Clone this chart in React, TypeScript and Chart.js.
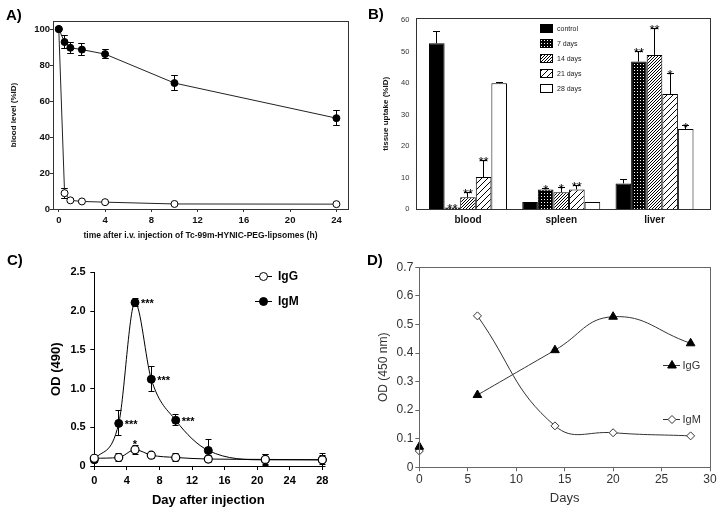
import React, { useEffect, useRef } from 'react';
import { Chart, registerables } from 'chart.js';

Chart.register(...registerables);

const FONT = '"Liberation Sans", Arial, Helvetica, sans-serif';
Chart.defaults.font.family = FONT;

const W = 721;
const H = 513;

// ---------- Panel A: blood level (%ID) vs time (h)
const aTimeH = [0, 0.5, 1, 2, 4, 10, 24];
const aFilled = [100, 92.8, 89.6, 88.6, 86.1, 70.0, 50.5];
const aFilledErr = [0, 3.8, 3.0, 3.5, 2.4, 4.0, 4.2];
const aOpen = [100, 8.8, 4.8, 4.2, 3.8, 2.8, 2.7];
const aOpenErr = [0, 2.8, 0.8, 0.5, 0.5, 0.5, 0.5];
const aXTicks = [0, 4, 8, 12, 16, 20, 24];
const aYTicks = [0, 20, 40, 60, 80, 100];

// ---------- Panel B: tissue uptake (%ID)
const bOrgans = ['blood', 'spleen', 'liver'];
const bGroups = ['control', '7 days', '14 days', '21 days', '28 days'];
const bControl = [52.6, 2.3, 8.2];
const bControlErr = [3.7, 0, 1.1];
const b7Days = [0.6, 6.3, 46.8];
const b7DaysErr = [0, 0.3, 3.2];
const b14Days = [3.8, 5.4, 48.9];
const b14DaysErr = [1.5, 1.5, 8.5];
const b21Days = [10.2, 6.3, 36.5];
const b21DaysErr = [5.4, 1.2, 6.6];
const b28Days = [39.9, 2.3, 25.4];
const b28DaysErr = [0.4, 0, 1.0];
const bControlStars = ['', '', ''];
const b7Stars = ['**', '*', '**'];
const b14Stars = ['**', '*', '**'];
const b21Stars = ['**', '**', '*'];
const b28Stars = ['', '', '*'];
const bYTicks = [0, 10, 20, 30, 40, 50, 60];

// ---------- Panel C: OD (490) vs day after injection
const cDays = [0, 3, 5, 7, 10, 14, 21, 28];
const cIgG = [0.10, 0.11, 0.21, 0.14, 0.11, 0.09, 0.085, 0.08];
const cIgGErr = [0.04, 0.05, 0.06, 0.04, 0.05, 0.05, 0.06, 0.06];
const cIgM = [0.08, 0.55, 2.11, 1.12, 0.59, 0.20, 0.08, 0.08];
const cIgMErr = [0.03, 0.16, 0.05, 0.16, 0.07, 0.14, 0.07, 0.08];
const cIgGStars = ['', '', '*', '', '', '', '', ''];
const cIgMStars = ['', '***', '***', '***', '***', '', '', ''];
const cXTicks = [0, 4, 8, 12, 16, 20, 24, 28];
const cYTicks = [0, 0.5, 1.0, 1.5, 2.0, 2.5];

// ---------- Panel D: OD (450 nm) vs days
const dBaselineDay = [0];
const dIgGBaseline = [0.072];
const dIgMBaseline = [0.057];
const dDays = [6, 14, 20, 28];
const dIgG = [0.253, 0.41, 0.527, 0.434];
const dIgM = [0.53, 0.145, 0.121, 0.11];
const dXTicks = [0, 5, 10, 15, 20, 25, 30];
const dYTicks = [0, 0.1, 0.2, 0.3, 0.4, 0.5, 0.6, 0.7];

// ---------- helpers
const setTicks = (vals: number[]) => (s: any) => {
  s.ticks = vals.map((v) => ({ value: v }));
};
const fixW = (w: number) => (s: any) => {
  s.width = w;
};
const fixH = (h: number) => (s: any) => {
  s.height = h;
};
const f = (size: number, weight: string = 'normal') => ({ family: FONT, size, weight });
const pts = (xs: number[], ys: number[]) => xs.map((x, i) => ({ x, y: ys[i] }));
const dec1 = (v: number) => (v === 0 ? '0' : Number(v).toFixed(1));

const errorBarPlugin = {
  id: 'errorBars',
  beforeDatasetsDraw(chart: any) {
    const ctx = chart.ctx;
    chart.data.datasets.forEach((ds: any, di: number) => {
      if (!ds.errors) return;
      const meta = chart.getDatasetMeta(di);
      const ys = chart.scales[meta.yAxisID];
      const cap = ds.errCap ?? 3;
      ctx.save();
      ctx.strokeStyle = ds.errColor || '#000';
      ctx.lineWidth = 1;
      meta.data.forEach((el: any, i: number) => {
        const e = ds.errors[i];
        if (!e) return;
        const d = ds.data[i];
        const v = typeof d === 'number' ? d : d.y;
        const x = Math.round(el.x - 0.5) + 0.5;
        const yTop = Math.round(ys.getPixelForValue(v + e) - 0.5) + 0.5;
        const yBot = ds.errUp
          ? ys.getPixelForValue(v)
          : Math.round(ys.getPixelForValue(v - e) - 0.5) + 0.5;
        ctx.beginPath();
        ctx.moveTo(x, yTop);
        ctx.lineTo(x, yBot);
        ctx.moveTo(x - cap, yTop);
        ctx.lineTo(x + cap, yTop);
        if (!ds.errUp) {
          ctx.moveTo(x - cap, yBot);
          ctx.lineTo(x + cap, yBot);
        }
        ctx.stroke();
      });
      ctx.restore();
    });
  },
};

const starPlugin = {
  id: 'stars',
  afterDatasetsDraw(chart: any) {
    const ctx = chart.ctx;
    chart.data.datasets.forEach((ds: any, di: number) => {
      if (!ds.stars) return;
      const meta = chart.getDatasetMeta(di);
      const ys = chart.scales[meta.yAxisID];
      const fs = ds.starSize || 10;
      ctx.save();
      ctx.fillStyle = '#000';
      ctx.font = `${ds.starWeight || 'bold'} ${fs}px ${FONT}`;
      ctx.textBaseline = 'alphabetic';
      meta.data.forEach((el: any, i: number) => {
        const s = ds.stars[i];
        if (!s) return;
        const d = ds.data[i];
        const v = typeof d === 'number' ? d : d.y;
        const e = ds.errors ? ds.errors[i] || 0 : 0;
        if (ds.starPos === 'right') {
          ctx.textAlign = 'left';
          ctx.fillText(s, el.x + 6, el.y + 0.45 * fs);
        } else {
          ctx.textAlign = 'center';
          const top = ys.getPixelForValue(v + e);
          ctx.fillText(s, el.x, top - (ds.starGap ?? 1) + 0.43 * fs);
        }
      });
      ctx.restore();
    });
  },
};

const framePlugin = {
  id: 'frame',
  afterDatasetsDraw(chart: any, _args: any, opts: any) {
    if (!opts || !opts.color) return;
    const { left, right, top, bottom } = chart.chartArea;
    const ctx = chart.ctx;
    const a = (v: number) => Math.round(v - 0.5) + 0.5;
    ctx.save();
    ctx.strokeStyle = opts.color;
    ctx.lineWidth = 1;
    ctx.strokeRect(a(left), a(top), a(right) - a(left), a(bottom) - a(top));
    ctx.restore();
  },
};

const deco = (fn: (ctx: CanvasRenderingContext2D, chart: any) => void) => ({
  id: 'deco',
  afterDraw(chart: any) {
    const ctx = chart.ctx;
    ctx.save();
    fn(ctx, chart);
    ctx.restore();
  },
});

function panelLabel(ctx: CanvasRenderingContext2D, text: string, x: number, y: number) {
  ctx.fillStyle = '#000';
  ctx.font = `bold 15px ${FONT}`;
  ctx.textAlign = 'left';
  ctx.textBaseline = 'alphabetic';
  ctx.fillText(text, x, y);
}

function marker(
  ctx: CanvasRenderingContext2D,
  style: string,
  x: number,
  y: number,
  r: number,
  fill: string,
  stroke: string
) {
  ctx.beginPath();
  if (style === 'circle') {
    ctx.arc(x, y, r, 0, Math.PI * 2);
  } else if (style === 'triangle') {
    for (let k = 0; k < 3; k++) {
      const ang = (k * 2 * Math.PI) / 3;
      const px = x + Math.sin(ang) * r;
      const py = y - Math.cos(ang) * r;
      if (k === 0) ctx.moveTo(px, py);
      else ctx.lineTo(px, py);
    }
    ctx.closePath();
  } else {
    ctx.moveTo(x, y - r);
    ctx.lineTo(x + r, y);
    ctx.lineTo(x, y + r);
    ctx.lineTo(x - r, y);
    ctx.closePath();
  }
  ctx.fillStyle = fill;
  ctx.fill();
  ctx.strokeStyle = stroke;
  ctx.lineWidth = 1;
  ctx.stroke();
}

function makePattern(kind: string): any {
  const c = document.createElement('canvas');
  const size = kind === 'sparse' ? 6 : 3;
  c.width = size;
  c.height = size;
  const g = c.getContext('2d')!;
  if (kind === 'cross') {
    g.fillStyle = '#000';
    g.fillRect(0, 0, size, size);
    g.fillStyle = '#fff';
    g.fillRect(1, 1, 1, 1);
  } else {
    g.fillStyle = '#fff';
    g.fillRect(0, 0, size, size);
    g.fillStyle = '#000';
    for (let i = 0; i < size; i++) g.fillRect(i, size - 1 - i, 1, 1);
  }
  return g.createPattern(c, 'repeat');
}

const baseOpts = {
  responsive: false,
  animation: false,
  events: [] as string[],
};

function configA(): any {
  const txt = '#111';
  const line = '#333';
  return {
    type: 'line',
    data: {
      datasets: [
        {
          label: 'filled',
          data: pts(aTimeH, aFilled),
          errors: aFilledErr,
          errCap: 3.3,
          borderColor: '#222',
          borderWidth: 1,
          pointRadius: 3.5,
          pointBackgroundColor: '#000',
          pointBorderColor: '#000',
          tension: 0,
          clip: false,
        },
        {
          label: 'open',
          data: pts(aTimeH, aOpen),
          errors: aOpenErr,
          errCap: 3.3,
          borderColor: '#222',
          borderWidth: 1,
          pointRadius: 3.5,
          pointBackgroundColor: '#fff',
          pointBorderColor: '#000',
          tension: 0,
          clip: false,
        },
      ],
    },
    options: {
      ...baseOpts,
      layout: { padding: { left: 8.7, top: 21, right: 373, bottom: 272.6 } },
      plugins: { legend: { display: false }, tooltip: { enabled: false }, frame: { color: line } },
      scales: {
        x: {
          type: 'linear',
          min: -0.5,
          max: 25,
          afterBuildTicks: setTicks(aXTicks),
          afterFit: fixH(31.4),
          grid: { drawOnChartArea: false, tickLength: 3, color: line },
          border: { color: line },
          ticks: { font: f(9.5, 'bold'), color: txt, padding: 3, maxRotation: 0, autoSkip: false },
          title: {
            display: true,
            text: 'time after i.v. injection of Tc-99m-HYNIC-PEG-lipsomes (h)',
            font: f(8.5, 'bold'),
            color: txt,
            padding: 0,
          },
        },
        y: {
          type: 'linear',
          min: 0,
          max: 104.5,
          afterBuildTicks: setTicks(aYTicks),
          afterFit: fixW(44.3),
          grid: { drawOnChartArea: false, tickLength: 3, color: line },
          border: { color: line },
          ticks: { font: f(9.5, 'bold'), color: txt, padding: 0 },
          title: { display: true, text: 'blood level (%ID)', font: f(8, 'bold'), color: txt, padding: 0 },
        },
      },
    },
    plugins: [errorBarPlugin, framePlugin, deco((ctx) => panelLabel(ctx, 'A)', 6, 19.5))],
  };
}

function configB(): any {
  const fills = ['#000', makePattern('cross'), makePattern('dense'), makePattern('sparse'), '#fff'];
  const vals = [bControl, b7Days, b14Days, b21Days, b28Days];
  const errs = [bControlErr, b7DaysErr, b14DaysErr, b21DaysErr, b28DaysErr];
  const stars = [bControlStars, b7Stars, b14Stars, b21Stars, b28Stars];
  const organX = bOrgans.map((_, i) => i + 1);
  const txt = '#111';
  return {
    type: 'bar',
    data: {
      datasets: bGroups.map((g, k) => ({
        label: g,
        data: pts(organX, vals[k]),
        errors: errs[k],
        errUp: true,
        errCap: 3.5,
        stars: stars[k],
        starSize: 13,
        starWeight: 'normal',
        starGap: 0,
        backgroundColor: fills[k],
        borderColor: '#000',
        borderWidth: 1,
        categoryPercentage: 0.836,
        barPercentage: 1,
      })),
    },
    options: {
      ...baseOpts,
      layout: { padding: { left: 380.9, top: 18.3, right: 11, bottom: 273.7 } },
      plugins: { legend: { display: false }, tooltip: { enabled: false }, frame: { color: '#333' } },
      scales: {
        x: {
          type: 'linear',
          offset: false,
          min: 0.45,
          max: 3.595,
          afterBuildTicks: setTicks(organX),
          afterFit: fixH(30),
          grid: { display: false, drawTicks: false, offset: false },
          border: { color: '#333' },
          ticks: {
            font: f(10, 'bold'),
            color: txt,
            padding: 5,
            maxRotation: 0,
            autoSkip: false,
            callback: (v: number) => bOrgans[Math.round(v) - 1] || '',
          },
        },
        y: {
          type: 'linear',
          min: 0,
          max: 60.5,
          afterBuildTicks: setTicks(bYTicks),
          afterFit: fixW(35.8),
          grid: { display: false, drawTicks: false },
          border: { color: '#333' },
          ticks: { font: f(7.5), color: '#333', padding: 7.4 },
          title: { display: true, text: 'tissue uptake (%ID)', font: f(8, 'bold'), color: txt, padding: 0 },
        },
      },
    },
    plugins: [
      errorBarPlugin,
      starPlugin,
      framePlugin,
      deco((ctx) => {
        panelLabel(ctx, 'B)', 368, 18.5);
        bGroups.forEach((g, i) => {
          const yc = 28.3 + i * 15;
          const y0 = Math.round(yc - 4.5);
          ctx.fillStyle = fills[i];
          ctx.fillRect(540, y0, 13, 9);
          ctx.strokeStyle = '#000';
          ctx.lineWidth = 1;
          ctx.strokeRect(540.5, y0 + 0.5, 12, 8);
          ctx.fillStyle = '#222';
          ctx.font = `7px ${FONT}`;
          ctx.textAlign = 'left';
          ctx.textBaseline = 'middle';
          ctx.fillText(g, 557, yc + 0.5);
        });
      }),
    ],
  };
}

function configC(): any {
  const txt = '#000';
  return {
    type: 'line',
    data: {
      datasets: [
        {
          label: 'IgG',
          data: pts(cDays, cIgG),
          errors: cIgGErr,
          errCap: 3,
          stars: cIgGStars,
          starSize: 11,
          starGap: 2,
          borderColor: '#000',
          borderWidth: 1,
          pointRadius: 4,
          pointBorderWidth: 1.2,
          pointBackgroundColor: '#fff',
          pointBorderColor: '#000',
          cubicInterpolationMode: 'monotone',
          clip: false,
        },
        {
          label: 'IgM',
          data: pts(cDays, cIgM),
          errors: cIgMErr,
          errCap: 3,
          stars: cIgMStars,
          starPos: 'right',
          starSize: 11,
          borderColor: '#000',
          borderWidth: 1,
          pointRadius: 4,
          pointBackgroundColor: '#000',
          pointBorderColor: '#000',
          cubicInterpolationMode: 'monotone',
          clip: false,
        },
      ],
    },
    options: {
      ...baseOpts,
      layout: { padding: { left: 48.9, top: 272.3, right: 398.7, bottom: 4.5 } },
      plugins: { legend: { display: false }, tooltip: { enabled: false } },
      scales: {
        x: {
          type: 'linear',
          min: 0,
          max: 28,
          afterBuildTicks: setTicks(cXTicks),
          afterFit: fixH(42.5),
          grid: { drawOnChartArea: false, tickLength: 4, color: '#000' },
          border: { color: '#000' },
          ticks: { font: f(11, 'bold'), color: txt, padding: 4, maxRotation: 0, autoSkip: false },
          title: { display: true, text: 'Day after injection', font: f(13, 'bold'), color: txt, padding: 0 },
        },
        y: {
          type: 'linear',
          min: 0,
          max: 2.5,
          afterBuildTicks: setTicks(cYTicks),
          afterFit: fixW(45.4),
          grid: { drawOnChartArea: false, tickLength: 4, color: '#000' },
          border: { color: '#000' },
          ticks: { font: f(11, 'bold'), color: txt, padding: 4.6, callback: (v: number) => dec1(v) },
          title: { display: true, text: 'OD (490)', font: f(13, 'bold'), color: txt, padding: 0 },
        },
      },
    },
    plugins: [
      errorBarPlugin,
      starPlugin,
      deco((ctx) => {
        panelLabel(ctx, 'C)', 7, 264.5);
        const items = [
          { t: 'IgG', y: 276, fill: '#fff' },
          { t: 'IgM', y: 301, fill: '#000' },
        ];
        items.forEach((it) => {
          ctx.strokeStyle = '#000';
          ctx.lineWidth = 1;
          ctx.beginPath();
          ctx.moveTo(255, it.y + 0.5);
          ctx.lineTo(272, it.y + 0.5);
          ctx.stroke();
          marker(ctx, 'circle', 263.5, it.y + 0.5, 4, it.fill, '#000');
          ctx.fillStyle = '#000';
          ctx.font = `bold 12px ${FONT}`;
          ctx.textAlign = 'left';
          ctx.textBaseline = 'middle';
          ctx.fillText(it.t, 278, it.y + 0.5);
        });
      }),
    ],
  };
}

function configD(): any {
  const txt = '#333';
  const ax = '#666';
  return {
    type: 'line',
    data: {
      datasets: [
        {
          label: 'IgG',
          data: pts(dDays, dIgG),
          borderColor: '#333',
          borderWidth: 1,
          pointStyle: 'triangle',
          pointRadius: 5,
          pointBackgroundColor: '#000',
          pointBorderColor: '#000',
          tension: 0.45,
          clip: false,
        },
        {
          label: 'IgM',
          data: pts(dDays, dIgM),
          borderColor: '#333',
          borderWidth: 1,
          pointStyle: 'rectRot',
          pointRadius: 4,
          pointBackgroundColor: '#fff',
          pointBorderColor: '#333',
          tension: 0.45,
          clip: false,
        },
        {
          label: 'IgG day 0',
          data: pts(dBaselineDay, dIgGBaseline),
          showLine: false,
          pointStyle: 'triangle',
          pointRadius: 5,
          pointBackgroundColor: '#000',
          pointBorderColor: '#000',
          clip: false,
        },
        {
          label: 'IgM day 0',
          data: pts(dBaselineDay, dIgMBaseline),
          showLine: false,
          pointStyle: 'rectRot',
          pointRadius: 4,
          pointBackgroundColor: '#fff',
          pointBorderColor: '#333',
          clip: false,
        },
      ],
    },
    options: {
      ...baseOpts,
      layout: { padding: { left: 376, top: 267.3, right: 11, bottom: 6.9 } },
      plugins: { legend: { display: false }, tooltip: { enabled: false }, frame: { color: ax } },
      scales: {
        x: {
          type: 'linear',
          min: 0,
          max: 30,
          afterBuildTicks: setTicks(dXTicks),
          afterFit: fixH(38.8),
          grid: { drawOnChartArea: false, tickLength: 4, color: ax },
          border: { color: ax },
          ticks: { font: f(12), color: txt, padding: 1.5, maxRotation: 0, autoSkip: false },
          title: { display: true, text: 'Days', font: f(13), color: txt, padding: 0 },
        },
        y: {
          type: 'linear',
          min: 0,
          max: 0.7,
          afterBuildTicks: setTicks(dYTicks),
          afterFit: fixW(43.3),
          grid: { drawOnChartArea: false, tickLength: 4, color: ax },
          border: { color: ax },
          ticks: { font: f(12), color: txt, padding: 2, callback: (v: number) => dec1(v) },
          title: { display: true, text: 'OD (450 nm)', font: f(12), color: txt, padding: 0 },
        },
      },
    },
    plugins: [
      framePlugin,
      deco((ctx) => {
        panelLabel(ctx, 'D)', 367, 264.5);
        const items = [
          { t: 'IgG', y: 365, style: 'triangle', r: 5, fill: '#000', stroke: '#000' },
          { t: 'IgM', y: 419, style: 'diamond', r: 4, fill: '#fff', stroke: '#333' },
        ];
        items.forEach((it) => {
          ctx.strokeStyle = '#333';
          ctx.lineWidth = 1;
          ctx.beginPath();
          ctx.moveTo(663, it.y + 0.5);
          ctx.lineTo(680, it.y + 0.5);
          ctx.stroke();
          marker(ctx, it.style, 672, it.y + 0.5, it.r, it.fill, it.stroke);
          ctx.fillStyle = txt;
          ctx.font = `11px ${FONT}`;
          ctx.textAlign = 'left';
          ctx.textBaseline = 'middle';
          ctx.fillText(it.t, 682.5, it.y + 0.5);
        });
      }),
    ],
  };
}

export default function App() {
  const refA = useRef<HTMLCanvasElement>(null);
  const refB = useRef<HTMLCanvasElement>(null);
  const refC = useRef<HTMLCanvasElement>(null);
  const refD = useRef<HTMLCanvasElement>(null);

  useEffect(() => {
    const charts = [
      new Chart(refA.current as HTMLCanvasElement, configA()),
      new Chart(refB.current as HTMLCanvasElement, configB()),
      new Chart(refC.current as HTMLCanvasElement, configC()),
      new Chart(refD.current as HTMLCanvasElement, configD()),
    ];
    return () => charts.forEach((c) => c.destroy());
  }, []);

  const cs: React.CSSProperties = { position: 'absolute', left: 0, top: 0 };
  return (
    <div
      style={{
        position: 'absolute',
        left: 0,
        top: 0,
        width: W,
        height: H,
        background: '#fff',
        overflow: 'hidden',
      }}
    >
      <canvas ref={refA} width={W} height={H} style={cs} />
      <canvas ref={refB} width={W} height={H} style={cs} />
      <canvas ref={refC} width={W} height={H} style={cs} />
      <canvas ref={refD} width={W} height={H} style={cs} />
    </div>
  );
}
